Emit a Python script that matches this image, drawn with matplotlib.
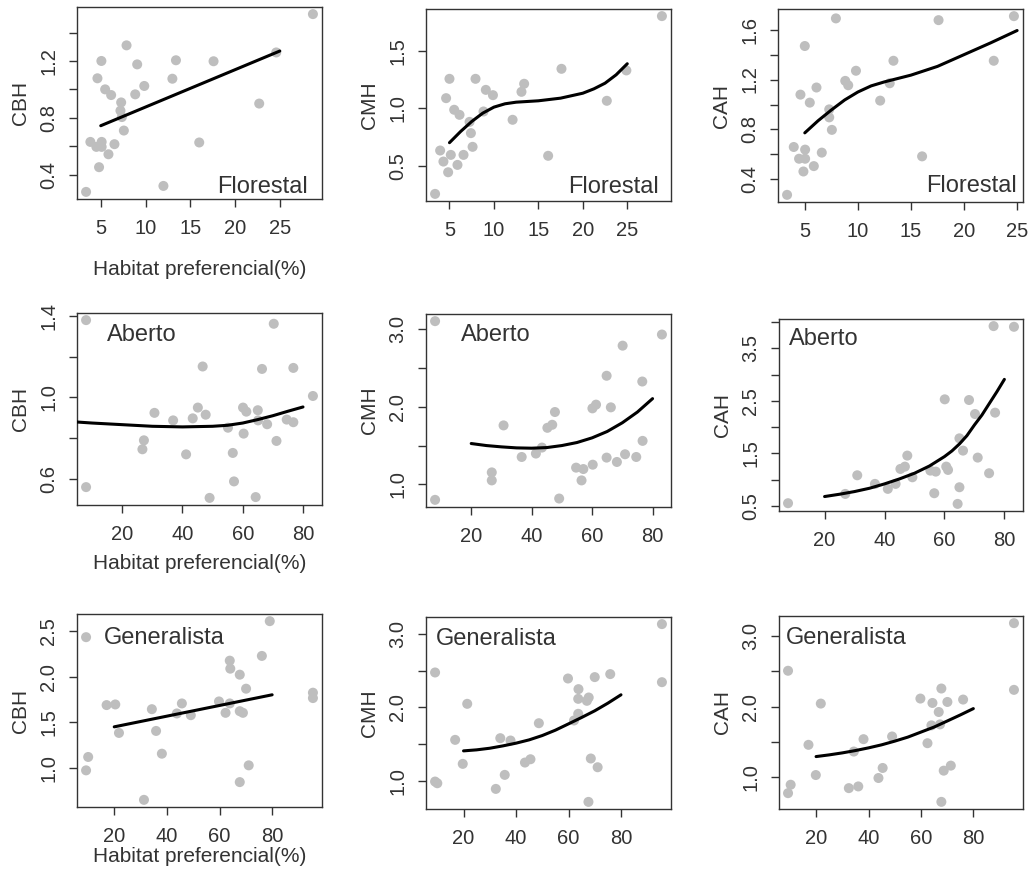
import matplotlib
matplotlib.use('Agg')
import matplotlib.pyplot as plt
import numpy as np

plt.rcParams['font.family'] = ['Liberation Sans', 'DejaVu Sans']

# ---- Florestal ----
flo_cbh_x = [28.7, 7.88, 5.07, 13.4, 17.6, 9.07, 4.63, 13.0, 9.86, 5.49, 6.16, 8.85, 22.7, 24.6,
             7.28, 7.2, 7.36, 7.58, 3.84, 5.1, 4.51, 5.1, 6.53, 5.86, 4.81, 16.0, 12.0, 3.36]
flo_cbh_y = [1.53, 1.31, 1.20, 1.205, 1.198, 1.176, 1.078, 1.075, 1.024, 1.0, 0.96, 0.965, 0.90, 1.26,
             0.908, 0.85, 0.805, 0.71, 0.63, 0.63, 0.595, 0.595, 0.614, 0.543, 0.452, 0.626, 0.32, 0.278]
flo_cbh_fit_x = [5, 25]
flo_cbh_fit_y = [0.744, 1.27]

flo_cmh_x = [28.9, 3.38, 5.0, 7.93, 4.62, 5.53, 6.13, 9.09, 9.89, 8.83, 7.26, 7.41, 7.6, 3.95,
             4.32, 5.15, 5.9, 6.58, 4.85, 13.1, 13.4, 12.1, 17.6, 16.1, 22.7, 24.9]
flo_cmh_y = [1.80, 0.255, 1.255, 1.255, 1.087, 0.986, 0.942, 1.159, 1.113, 0.971, 0.881, 0.783, 0.664, 0.632,
             0.536, 0.594, 0.507, 0.594, 0.443, 1.142, 1.212, 0.899, 1.342, 0.586, 1.064, 1.328]
flo_cmh_fit_x = [5, 6.25, 7.5, 8.75, 10, 11.25, 12.5, 15, 17.5, 20, 21.25, 22.5, 23.75, 25]
flo_cmh_fit_y = [0.70, 0.797, 0.884, 0.957, 1.009, 1.038, 1.052, 1.064, 1.087, 1.13, 1.168, 1.217, 1.29, 1.386]

flo_cah_x = [7.93, 17.6, 24.7, 5.0, 13.35, 22.8, 9.82, 8.81, 9.09, 13.0, 6.1, 4.59, 5.47, 12.1,
             7.3, 7.3, 7.55, 3.96, 5.03, 4.46, 5.03, 6.6, 5.85, 4.87, 16.05, 3.33]
flo_cah_y = [1.689, 1.675, 1.707, 1.468, 1.35, 1.35, 1.27, 1.189, 1.154, 1.17, 1.136, 1.079, 1.015, 1.031,
             0.961, 0.897, 0.797, 0.66, 0.639, 0.566, 0.566, 0.615, 0.507, 0.464, 0.585, 0.277]
flo_cah_fit_x = [5, 6.25, 7.5, 8.75, 10, 11.25, 12.5, 13.75, 15, 17.5, 20, 22.5, 25]
flo_cah_fit_y = [0.773, 0.87, 0.956, 1.036, 1.10, 1.149, 1.181, 1.208, 1.235, 1.305, 1.399, 1.493, 1.592]

# ---- Aberto ----
abe_cbh_x = [8.0, 8.0, 70.3, 46.7, 66.4, 76.8, 83.3, 30.7, 36.9, 45.1, 43.4, 47.7, 60.1, 61.2, 65.0,
             65.1, 68.1, 74.6, 76.8, 55.1, 60.3, 27.2, 26.7, 41.2, 56.7, 71.2, 57.1, 49.0, 64.3]
abe_cbh_y = [1.38, 0.559, 1.362, 1.152, 1.14, 1.145, 1.007, 0.924, 0.887, 0.95, 0.897, 0.915, 0.95, 0.93, 0.937,
             0.887, 0.868, 0.891, 0.878, 0.851, 0.822, 0.789, 0.745, 0.72, 0.727, 0.786, 0.587, 0.506, 0.51]
abe_cbh_fit_x = [5, 10, 20, 30, 40, 50, 55, 60, 65, 70, 75, 80]
abe_cbh_fit_y = [0.879, 0.874, 0.866, 0.858, 0.855, 0.858, 0.863, 0.874, 0.891, 0.910, 0.932, 0.953]

abe_cmh_x = [8.04, 8.04, 83.1, 70.1, 64.8, 76.6, 47.7, 60.1, 61.3, 66.2, 30.7, 45.2, 46.8, 36.7,
             41.4, 43.4, 26.8, 26.8, 54.7, 57.1, 56.5, 60.2, 64.8, 68.2, 70.9, 74.6, 76.7, 49.1]
abe_cmh_y = [3.099, 0.802, 2.927, 2.784, 2.397, 2.323, 1.931, 1.978, 2.026, 1.991, 1.759, 1.728, 1.767, 1.353,
             1.397, 1.474, 1.155, 1.052, 1.216, 1.198, 1.052, 1.254, 1.345, 1.289, 1.388, 1.353, 1.56, 0.819]
abe_cmh_fit_x = [20, 25, 30, 35, 40, 45, 50, 55, 60, 65, 70, 75, 80]
abe_cmh_fit_y = [1.526, 1.50, 1.483, 1.47, 1.466, 1.474, 1.50, 1.539, 1.599, 1.681, 1.793, 1.931, 2.103]

abe_cah_x = [7.8, 76.4, 83.2, 60.1, 68.2, 70.2, 76.9, 65.0, 66.2, 71.1, 47.6, 45.3, 46.8, 60.6,
             61.2, 55.3, 57.1, 49.3, 30.9, 36.8, 41.1, 43.7, 26.9, 74.9, 56.6, 65.0, 64.4]
abe_cah_y = [0.551, 3.925, 3.912, 2.53, 2.517, 2.25, 2.276, 1.787, 1.553, 1.42, 1.458, 1.204, 1.248, 1.248,
             1.185, 1.172, 1.153, 1.045, 1.083, 0.919, 0.824, 0.919, 0.728, 1.122, 0.741, 0.855, 0.538]
abe_cah_fit_x = [20, 25, 30, 35, 40, 45, 50, 55, 60, 62.5, 65, 67.5, 70, 72.5, 75, 77.5, 80]
abe_cah_fit_y = [0.678, 0.722, 0.773, 0.836, 0.919, 1.014, 1.122, 1.26, 1.439, 1.547, 1.68, 1.838,
                 2.041, 2.23, 2.453, 2.675, 2.91]

# ---- Generalista ----
gen_cbh_x = [9.3, 79.1, 76.1, 63.9, 64.1, 67.7, 70.1, 95.5, 95.5, 17.1, 20.4, 34.3, 45.7, 43.8,
             49.1, 59.8, 62.3, 63.9, 67.7, 68.9, 21.8, 35.9, 38.1, 10.1, 9.3, 71.1, 67.7, 31.3]
gen_cbh_y = [2.434, 2.61, 2.228, 2.176, 2.088, 2.022, 1.868, 1.824, 1.765, 1.688, 1.695, 1.643, 1.706, 1.596,
             1.577, 1.728, 1.603, 1.706, 1.621, 1.603, 1.382, 1.404, 1.154, 1.118, 0.971, 1.026, 0.842, 0.647]
gen_cbh_fit_x = [20, 80]
gen_cbh_fit_y = [1.449, 1.801]

gen_cmh_x = [95.6, 95.6, 9.15, 59.8, 70.0, 75.9, 63.8, 63.7, 67.0, 67.7, 21.4, 63.7, 62.1, 48.7,
             16.8, 34.0, 37.9, 19.7, 43.4, 45.5, 68.5, 71.1, 35.7, 9.15, 10.0, 32.3, 67.6]
gen_cmh_y = [3.136, 2.345, 2.477, 2.395, 2.414, 2.455, 2.25, 2.118, 2.091, 2.136, 2.05, 1.914, 1.823, 1.786,
             1.559, 1.582, 1.55, 1.232, 1.25, 1.295, 1.305, 1.186, 1.082, 0.991, 0.968, 0.891, 0.714]
gen_cmh_fit_x = [20, 25, 30, 35, 40, 45, 50, 55, 60, 65, 70, 75, 80]
gen_cmh_fit_y = [1.409, 1.423, 1.445, 1.477, 1.514, 1.559, 1.618, 1.691, 1.777, 1.864, 1.955, 2.059, 2.173]

gen_cah_x = [95.5, 95.5, 9.3, 21.8, 59.8, 67.8, 64.4, 70.1, 76.1, 66.8, 64.0, 67.3, 62.5, 49.0,
             38.1, 34.4, 17.1, 19.9, 45.4, 43.8, 32.5, 36.1, 68.7, 71.4, 10.3, 9.3, 67.8]
gen_cah_y = [3.18, 2.237, 2.507, 2.043, 2.114, 2.256, 2.052, 2.066, 2.1, 1.924, 1.735, 1.749, 1.483, 1.578,
             1.54, 1.365, 1.46, 1.033, 1.133, 0.991, 0.848, 0.872, 1.095, 1.166, 0.896, 0.777, 0.654]
gen_cah_fit_x = [20, 25, 30, 35, 40, 45, 50, 55, 60, 65, 70, 75, 80]
gen_cah_fit_y = [1.294, 1.318, 1.346, 1.379, 1.417, 1.46, 1.512, 1.569, 1.64, 1.711, 1.796, 1.882, 1.972]

W, H = 1029, 872
fig = plt.figure(figsize=(W / 100, H / 100), dpi=100)
fg = '#333333'

# x, y, fit x, fit y, ylabel, box px (l, t, r, b), xticks, ystep, label every, habitat, text offset, xlabel pad
panels = [
    (flo_cbh_x, flo_cbh_y, flo_cbh_fit_x, flo_cbh_fit_y, 'CBH', (77, 7, 322, 199), [5, 10, 15, 20, 25], 0.2, 2, 'Florestal', (-14, 6), 16.4),
    (flo_cmh_x, flo_cmh_y, flo_cmh_fit_x, flo_cmh_fit_y, 'CMH', (426, 9, 671, 201), [5, 10, 15, 20, 25], 0.5, 1, 'Florestal', (-12, 8), None),
    (flo_cah_x, flo_cah_y, flo_cah_fit_x, flo_cah_fit_y, 'CAH', (778, 9, 1023, 202), [5, 10, 15, 20, 25], 0.2, 2, 'Florestal', (-6, 10), None),
    (abe_cbh_x, abe_cbh_y, abe_cbh_fit_x, abe_cbh_fit_y, 'CBH', (77, 313, 322, 505), [20, 40, 60, 80], 0.2, 2, 'Aberto', (30, -28), 7.8),
    (abe_cmh_x, abe_cmh_y, abe_cmh_fit_x, abe_cmh_fit_y, 'CMH', (426, 314, 671, 507), [20, 40, 60, 80], 0.5, 2, 'Aberto', (35, -27), None),
    (abe_cah_x, abe_cah_y, abe_cah_fit_x, abe_cah_fit_y, 'CAH', (779, 319, 1023, 511), [20, 40, 60, 80], 0.5, 2, 'Aberto', (10, -26), None),
    (gen_cbh_x, gen_cbh_y, gen_cbh_fit_x, gen_cbh_fit_y, 'CBH', (77, 614, 322, 807), [20, 40, 60, 80], 0.5, 1, 'Generalista', (27, -30), 1.3),
    (gen_cmh_x, gen_cmh_y, gen_cmh_fit_x, gen_cmh_fit_y, 'CMH', (426, 617, 671, 809), [20, 40, 60, 80], 0.5, 2, 'Generalista', (10, -28), None),
    (gen_cah_x, gen_cah_y, gen_cah_fit_x, gen_cah_fit_y, 'CAH', (779, 616, 1023, 809), [20, 40, 60, 80], 0.5, 2, 'Generalista', (7, -28), None),
]


def r_lim(v):
    # R style axis range: data range plus 4% on each side
    lo, hi = min(v), max(v)
    d = (hi - lo) * 0.04
    return lo - d, hi + d


for x, y, fx, fy, ylab, box, xt, ystep, yevery, hab, tpos, xlpad in panels:
    l, t, r, b = box
    ax = fig.add_axes([l / W, 1 - b / H, (r - l) / W, (b - t) / H])
    ax.scatter(x, y, s=52, color='#bebebe', edgecolors='none', zorder=2)
    ax.plot(fx, fy, color='black', lw=2.2, zorder=3, solid_capstyle='round', solid_joinstyle='round')
    xlo, xhi = r_lim(x)
    ylo, yhi = r_lim(y)
    ax.set_xlim(xlo, xhi)
    ax.set_ylim(ylo, yhi)
    ax.set_xticks(xt)
    yt = np.arange(np.ceil(ylo / ystep - 1e-9) * ystep, yhi + 1e-9, ystep)
    yt = np.round(yt, 2)
    ax.set_yticks(yt)
    # R drops overlapping labels: keep every other one, starting from the first
    ax.set_yticklabels(['%.1f' % v if i % yevery == 0 else '' for i, v in enumerate(yt)],
                       rotation=90, va='center')
    for s in ax.spines.values():
        s.set_color(fg)
        s.set_linewidth(1.0)
    ax.tick_params(direction='out', length=6, width=1, color=fg, labelcolor=fg, labelsize=14.5)
    ax.tick_params(axis='x', pad=8.1)
    ax.tick_params(axis='y', pad=7.4)
    ax.set_ylabel(ylab, fontsize=15, color=fg, labelpad=7)
    if xlpad is not None:
        ax.set_xlabel('Habitat preferencial(%)', fontsize=15, color=fg, labelpad=xlpad)
    if hab == 'Florestal':
        ax.annotate(hab, xy=(1, 0), xycoords='axes fraction', xytext=tpos, textcoords='offset pixels',
                    ha='right', va='baseline', fontsize=17, color=fg)
    else:
        ax.annotate(hab, xy=(0, 1), xycoords='axes fraction', xytext=tpos, textcoords='offset pixels',
                    ha='left', va='baseline', fontsize=17, color=fg)

fig.savefig('out.png', dpi=100)
